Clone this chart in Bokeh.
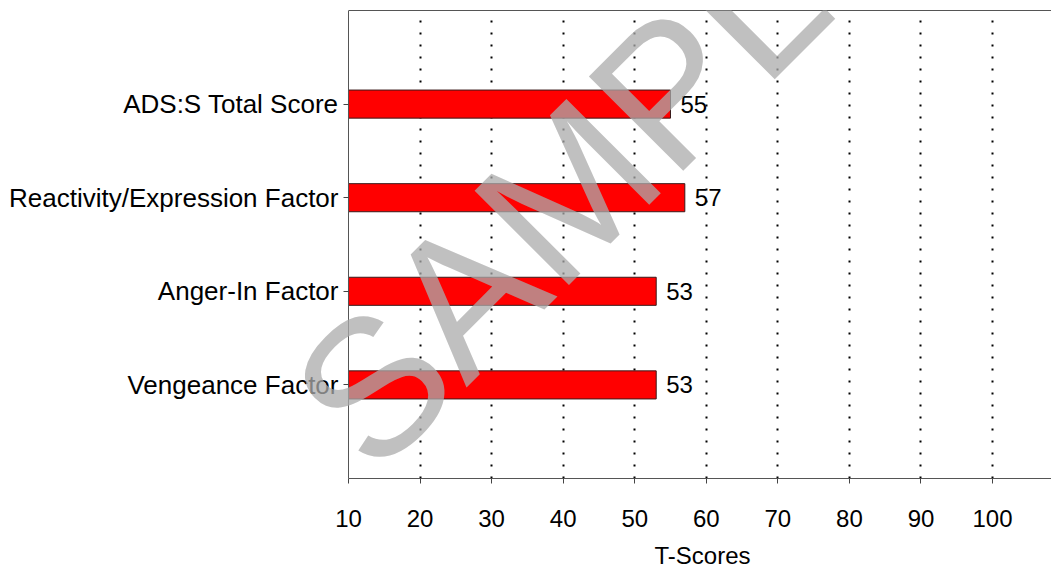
from bokeh.plotting import figure
from bokeh.models import (FactorRange, Range1d, FixedTicker, LinearAxis, Label,
                          Title, ColumnDataSource)
from bokeh.core.properties import value
from bokeh.embed import file_html
from bokeh.resources import INLINE

# ---- data ----
categories = ["ADS:S Total Score", "Reactivity/Expression Factor",
              "Anger-In Factor", "Vengeance Factor"]
t_scores = [55, 57, 53, 53]
x_ticks = [10, 20, 30, 40, 50, 60, 70, 80, 90, 100]
x_label = "T-Scores"
watermark = "SAMPLE"

X_START, X_END = 10, 108.24   # visible value axis
FONT = value("Liberation Sans")

src = ColumnDataSource(dict(cat=categories, score=t_scores,
                            txt=[str(v) for v in t_scores]))

y_range = FactorRange(factors=list(reversed(categories)),
                      range_padding=0.5, range_padding_units="absolute")

p = figure(width=1051, height=579, output_backend="svg", toolbar_location=None,
           x_range=Range1d(-38.63, X_END), y_range=y_range,
           min_border_left=0, min_border_right=0, min_border_top=10,
           min_border_bottom=101)
p.outline_line_color = None
p.background_fill_color = "white"
p.border_fill_color = "white"

p.hbar(y="cat", left=X_START, right="score", height=0.3, source=src,
       fill_color="#FF0000", line_color="#3a1a1a", line_width=1)

p.text(x="score", y="cat", text="txt", source=src, x_offset=10,
       text_align="left", text_baseline="middle", text_font=FONT,
       text_font_size="24px", text_color="black")

# x axis
xa = p.xaxis[0]
xa.bounds = (X_START, X_END)
xa.ticker = FixedTicker(ticks=x_ticks)
xa.minor_tick_line_color = None
xa.major_tick_in = 0
xa.major_tick_out = 5
xa.major_tick_line_color = "#444444"
xa.axis_line_color = "#555555"
xa.major_label_text_font = "Liberation Sans"
xa.major_label_text_font_size = "24px"
xa.major_label_text_color = "black"
xa.major_label_standoff = 26

# x axis title, centred under the value axis
xt = Title(text=x_label, align="left", offset=654, standoff=20,
           vertical_align="bottom", text_font="Liberation Sans",
           text_font_size="24px", text_font_style="normal",
           text_color="black")
p.add_layout(xt, "below")

# y axis, drawn at the start of the value axis
ya = p.yaxis[0]
ya.fixed_location = X_START
ya.major_tick_in = 0
ya.major_tick_out = 5
ya.major_tick_line_color = "#444444"
ya.axis_line_color = "#555555"
ya.major_label_text_font = "Liberation Sans"
ya.major_label_text_font_size = "26px"
ya.major_label_text_color = "black"
ya.major_label_standoff = 5

# top border line
top = LinearAxis(ticker=FixedTicker(ticks=[]), major_label_text_font_size="0px",
                 major_tick_out=0, major_tick_in=0, minor_tick_out=0,
                 minor_tick_in=0, major_label_standoff=0,
                 axis_line_color="#555555", bounds=(X_START, X_END))
p.add_layout(top, "above")

# grid
p.ygrid.grid_line_color = None
p.xgrid.ticker = FixedTicker(ticks=x_ticks[1:])
p.xgrid.grid_line_color = "black"
p.xgrid.grid_line_width = 2
p.xgrid.grid_line_dash = "2 10"

# watermark
wm = Label(x=45.9, y=2.975, x_units="data", y_units="data", text=watermark,
           angle=45, angle_units="deg", text_align="center",
           text_baseline="middle", text_font="Liberation Sans",
           text_font_size="194px", text_color="#ababab", text_alpha=0.75)
p.add_layout(wm)

open("out.html", "w").write(file_html(p, INLINE))
